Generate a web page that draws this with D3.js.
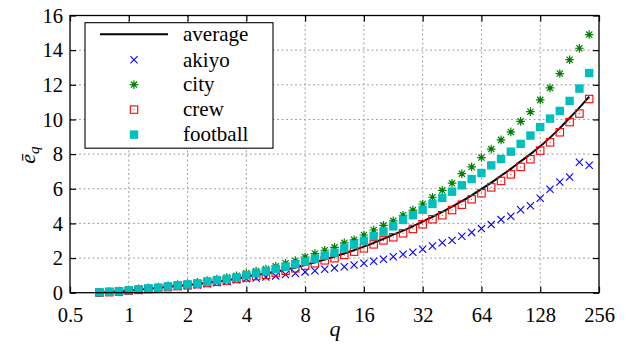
<!DOCTYPE html>
<html><head><meta charset="utf-8">
<script src="https://cdn.jsdelivr.net/npm/d3@7"></script>
</head><body style="margin:0"><svg id="c" width="634" height="349"></svg>
<script>
// q = 2^(k/6), k = -3..47
const kIndex = d3.range(-3, 48);
const xTicks = [0.5, 1, 2, 4, 8, 16, 32, 64, 128, 256];
const xTickLabels = ["0.5","1","2","4","8","16","32","64","128","256"];
const yTicks = [0, 2, 4, 6, 8, 10, 12, 14, 16];
const seriesNames = ["average","akiyo","city","crew","football"];

const average = [0.01,0.04,0.07,0.12,0.17,0.22,0.27,0.33,0.39,0.44,0.50,0.57,0.64,0.72,0.80,
  0.93,1.02,1.11,1.22,1.33,1.46,1.60,1.75,1.92,2.08,2.26,2.46,2.66,2.88,3.11,
  3.35,3.58,3.83,4.10,4.38,4.66,4.97,5.28,5.62,5.98,
  6.35,6.75,7.15,7.58,8.00,8.45,8.95,9.50,10.08,10.68,11.32];
const akiyo = [0.01,0.04,0.07,0.12,0.17,0.22,0.26,0.31,0.36,0.40,0.45,0.52,0.58,0.65,0.74,
  0.80,0.85,0.90,0.97,1.05,1.12,1.20,1.27,1.35,1.42,1.50,1.60,1.70,1.82,1.93,
  2.08,2.22,2.33,2.51,2.70,2.88,3.02,3.26,3.48,3.70,
  3.93,4.22,4.41,4.79,5.02,5.45,5.97,6.39,6.68,7.53,7.36];
const city = [0.03,0.07,0.10,0.16,0.22,0.28,0.33,0.40,0.47,0.53,0.60,0.70,0.79,0.88,0.98,
  1.12,1.25,1.37,1.52,1.70,1.85,2.06,2.26,2.45,2.62,2.88,3.05,3.33,3.62,3.89,
  4.15,4.47,4.77,5.12,5.51,5.91,6.32,6.87,7.26,7.80,
  8.29,8.82,9.28,9.89,10.45,11.13,11.82,12.65,13.45,14.11,14.90];
const crew = [0.00,0.03,0.06,0.11,0.16,0.21,0.26,0.32,0.38,0.43,0.49,0.56,0.63,0.70,0.79,
  0.88,0.96,1.03,1.16,1.27,1.41,1.56,1.70,1.87,1.99,2.18,2.37,2.56,2.79,3.02,
  3.20,3.43,3.68,3.95,4.24,4.47,4.77,5.08,5.39,5.74,
  6.08,6.45,6.83,7.26,7.70,8.20,8.68,9.26,9.85,10.34,11.18];
const football = [0.02,0.06,0.08,0.14,0.20,0.25,0.29,0.37,0.43,0.48,0.54,0.64,0.72,0.79,0.89,
  1.01,1.12,1.25,1.37,1.50,1.64,1.79,1.96,2.14,2.31,2.56,2.79,3.00,3.27,3.52,
  3.83,4.20,4.47,4.79,5.12,5.47,5.83,6.20,6.56,6.91,
  7.35,7.72,8.14,8.59,9.07,9.56,10.05,10.49,11.07,11.78,12.68];

const qValues = kIndex.map(k => Math.pow(2, k/6));
const FONT = '"Liberation Serif"';

const svg = d3.select("#c");
const L = 70, R = 599, T = 15.5, B = 292.7;
const x = d3.scaleLog().base(2).domain([0.5, 256]).range([L, R]);
const y = d3.scaleLinear().domain([0, 16]).range([B, T]);

function txt(sel, size){ return sel.attr("font-family","Liberation Serif").style("font-family",FONT).style("font-size",size+"px").attr("fill","#000"); }

// grid
const grid = svg.append("g").attr("stroke", "#a0a0a0").attr("stroke-width", 1).attr("stroke-dasharray", "2,2.5");
xTicks.slice(1, -1).forEach(t => grid.append("line").attr("x1", x(t)).attr("x2", x(t)).attr("y1", T).attr("y2", B));
yTicks.slice(1, -1).forEach(t => grid.append("line").attr("x1", L).attr("x2", R).attr("y1", y(t)).attr("y2", y(t)));

// axes with inward ticks
const axB = d3.axisBottom(x).tickValues(xTicks).tickFormat((d,i) => xTickLabels[i]).tickSizeInner(-6).tickSizeOuter(0).tickPadding(10);
const axT = d3.axisTop(x).tickValues(xTicks).tickFormat("").tickSizeInner(-6).tickSizeOuter(0);
const axL = d3.axisLeft(y).tickValues(yTicks).tickSizeInner(-6).tickSizeOuter(0).tickPadding(7);
const axR = d3.axisRight(y).tickValues(yTicks).tickFormat("").tickSizeInner(-6).tickSizeOuter(0);
function style(g){ g.attr("font-family","Liberation Serif").attr("font-size",20.5);
  g.select(".domain").remove(); g.selectAll("line").attr("stroke","#000").attr("stroke-width",1.2);
  txt(g.selectAll("text"), 20.5); }
svg.append("g").attr("transform", `translate(0,${B})`).call(axB).call(style).selectAll("text").attr("dy","0.95em");
svg.append("g").attr("transform", `translate(0,${T})`).call(axT).call(style);
svg.append("g").attr("transform", `translate(${L},0)`).call(axL).call(style).selectAll("text").attr("dy","0.33em");
svg.append("g").attr("transform", `translate(${R},0)`).call(axR).call(style);

// data
const plot = svg.append("g");
const line = d3.line().x((d,i) => x(qValues[i])).y(d => y(d)).curve(d3.curveMonotoneX);
plot.append("path").datum(average).attr("d", line).attr("fill","none").attr("stroke","#000").attr("stroke-width",2);

function xMark(g, cx, cy){ const s=3.6;
  g.append("path").attr("d",`M${cx-s},${cy-s}L${cx+s},${cy+s}M${cx-s},${cy+s}L${cx+s},${cy-s}`).attr("stroke","#0000ff").attr("stroke-width",1.1).attr("fill","none"); }
function starMark(g, cx, cy){ const s=4.3, d=s*0.72;
  g.append("path").attr("d",`M${cx-s},${cy}L${cx+s},${cy}M${cx},${cy-s}L${cx},${cy+s}M${cx-d},${cy-d}L${cx+d},${cy+d}M${cx-d},${cy+d}L${cx+d},${cy-d}`)
    .attr("stroke","#008000").attr("stroke-width",1.2).attr("fill","none");
  g.append("circle").attr("cx",cx).attr("cy",cy).attr("r",1.9).attr("fill","#008000"); }
function openSq(g, cx, cy){ const s=3.7;
  g.append("rect").attr("x",cx-s).attr("y",cy-s).attr("width",2*s).attr("height",2*s).attr("fill","none").attr("stroke","#ff0000").attr("stroke-width",1.1);
  g.append("rect").attr("x",cx-0.5).attr("y",cy-0.5).attr("width",1).attr("height",1).attr("fill","#ff0000"); }
function fillSq(g, cx, cy){ const s=4.2;
  g.append("rect").attr("x",cx-s).attr("y",cy-s).attr("width",2*s).attr("height",2*s).attr("fill","#00bfbf"); }

const gA = plot.append("g"), gC = plot.append("g"), gR = plot.append("g"), gF = plot.append("g");
akiyo.forEach((v,i) => xMark(gA, x(qValues[i]), y(v)));
city.forEach((v,i) => starMark(gC, x(qValues[i]), y(v)));
crew.forEach((v,i) => openSq(gR, x(qValues[i]), y(v)));
football.forEach((v,i) => fillSq(gF, x(qValues[i]), y(v)));

// frame
svg.append("rect").attr("x",L).attr("y",T).attr("width",R-L).attr("height",B-T).attr("fill","none").attr("stroke","#000").attr("stroke-width",1.3);

// legend
const lg = svg.append("g");
lg.append("rect").attr("x",85).attr("y",22.7).attr("width",188).attr("height",125.5).attr("fill","#fff").attr("stroke","#000").attr("stroke-width",1.1);
const rowY = [34.3, 59.8, 84.6, 109.6, 134.6];
lg.append("line").attr("x1",100).attr("x2",168).attr("y1",rowY[0]).attr("y2",rowY[0]).attr("stroke","#000").attr("stroke-width",2);
xMark(lg, 134, rowY[1]); starMark(lg, 134, rowY[2]); openSq(lg, 134, rowY[3]); fillSq(lg, 134, rowY[4]);
seriesNames.forEach((n,i) => txt(lg.append("text").attr("x",183).attr("y",rowY[i]+6.8), 21).text(n));

// axis labels
txt(svg.append("text").attr("x",335).attr("y",336).attr("text-anchor","middle"), 22).style("font-style","italic").text("q");
const yl = txt(svg.append("text").attr("transform","translate(35,155) rotate(-90)").attr("text-anchor","middle"), 22).style("font-style","italic");
yl.append("tspan").text("ē");
yl.append("tspan").style("font-size","15px").attr("dy",4).text("q");
</script></body></html>
